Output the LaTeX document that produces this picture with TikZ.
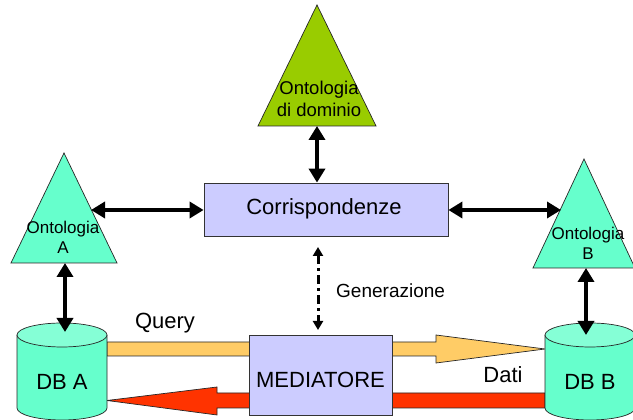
\documentclass[tikz,border=0pt]{standalone}
\usepackage{fontspec}
\setmainfont{Liberation Sans}
\usetikzlibrary{arrows.meta}
\definecolor{aqua}{HTML}{66FFCC}
\definecolor{aqualight}{HTML}{85FFD6}
\definecolor{olivegreen}{HTML}{99CC00}
\definecolor{lav}{HTML}{CCCCFF}
\definecolor{qcol}{HTML}{FFCC66}
\definecolor{dcol}{HTML}{FF3300}
\begin{document}
\begin{tikzpicture}[x=1pt,y=1pt,
  biarrow/.style={line width=4.5pt,{Triangle[length=14pt,width=16pt]}-{Triangle[length=14pt,width=16pt]}},
  genarrow/.style={line width=3pt,dash pattern=on 9pt off 4pt on 3pt off 4pt,{Triangle[length=9pt,width=10pt]}-{Triangle[length=9pt,width=10pt]}},
  boxst/.style={draw=black!80,line width=0.8pt,fill=lav,inner sep=0pt},
  shapeline/.style={draw=black!85,line width=0.7pt},
  bigtxt/.style={font=\fontsize{22}{24}\selectfont},
  ontotxt/.style={font=\fontsize{17}{20}\selectfont,align=center,inner sep=0pt},
]
\useasboundingbox (0,0) rectangle (633,420);

% block arrows (under cylinders and mediator)
\coordinate (qS) at (107,71);
\coordinate (qT) at (545,71);
\coordinate (dS) at (545,19.5);
\coordinate (dT) at (107,19.5);
\filldraw[fill=qcol,shapeline] (qS) ++(0,7) -- (436,78) -- (436,85) -- (qT) -- (436,57) -- (436,64) -- (107,64) -- cycle;
\filldraw[fill=dcol,shapeline] (dS) ++(0,7.5) -- (217,27) -- (217,33) -- (dT) -- (217,5) -- (217,12) -- (545,12) -- cycle;

% cylinders
\filldraw[fill=aqua,shapeline] (17,85) -- (17,12) arc[start angle=180,end angle=360,x radius=45,y radius=12] -- (107,85);
\filldraw[fill=aqualight,shapeline] (62,85) ellipse[x radius=45,y radius=12];
\filldraw[fill=aqua,shapeline] (545,85) -- (545,12) arc[start angle=180,end angle=360,x radius=45,y radius=12] -- (635,85);
\filldraw[fill=aqualight,shapeline] (590,85) ellipse[x radius=45,y radius=12];
\node[bigtxt] (dbA) at (62,38) {DB A};
\node[bigtxt] (dbB) at (590,38) {DB B};
\coordinate (dbAtop) at (65,88);
\coordinate (dbBtop) at (586,85);

% mediator
\node[boxst,minimum width=143pt,minimum height=80pt] (med) at (320.5,45) {};
\node[bigtxt] (medtxt) at (320.5,40) {MEDIATORE};
\coordinate (medtop) at (318,90);

% corrispondenze
\node[boxst,minimum width=244pt,minimum height=53pt] (corr) at (326,210.5) {};
\node[bigtxt] (corrtxt) at (324,211) {Corrispondenze};

% triangles
\filldraw[fill=olivegreen,shapeline] (258,294) -- (317,415) -- (376,294) -- cycle;
\node[ontotxt,font=\fontsize{18.5}{22}\selectfont] (dom) at (319,321) {Ontologia\\di dominio};
\coordinate (dombase) at (317,294);

\filldraw[fill=aqua,shapeline] (11,157) -- (64,267) -- (117,157) -- cycle;
\node[ontotxt] (ontA) at (63,183) {Ontologia\\A};
\coordinate (ontAedge) at (91,210);
\coordinate (ontAbase) at (65,157);

\filldraw[fill=aqua,shapeline] (533,152) -- (584,261) -- (635,152) -- cycle;
\node[ontotxt] (ontB) at (588,177) {Ontologia\\B};
\coordinate (ontBedge) at (561,210);
\coordinate (ontBbase) at (586,152);

% connectors
\draw[biarrow] (dombase) -- (corr.north -| dombase);
\draw[biarrow] (ontAedge) -- (corr.west |- ontAedge);
\draw[biarrow] (corr.east |- ontBedge) -- (ontBedge);
\draw[biarrow] (ontAbase) -- (dbAtop);
\draw[biarrow] (ontBbase) -- (dbBtop);
\draw[genarrow] (318,173) coordinate (gentop) -- (medtop);

% labels
\node[font=\fontsize{19}{22}\selectfont,anchor=west,inner sep=0pt] (gen) at (336,129) {Generazione};
\node[bigtxt] (query) at (165,97) {Query};
\node[bigtxt] (dati) at (503,45) {Dati};
\end{tikzpicture}
\end{document}
